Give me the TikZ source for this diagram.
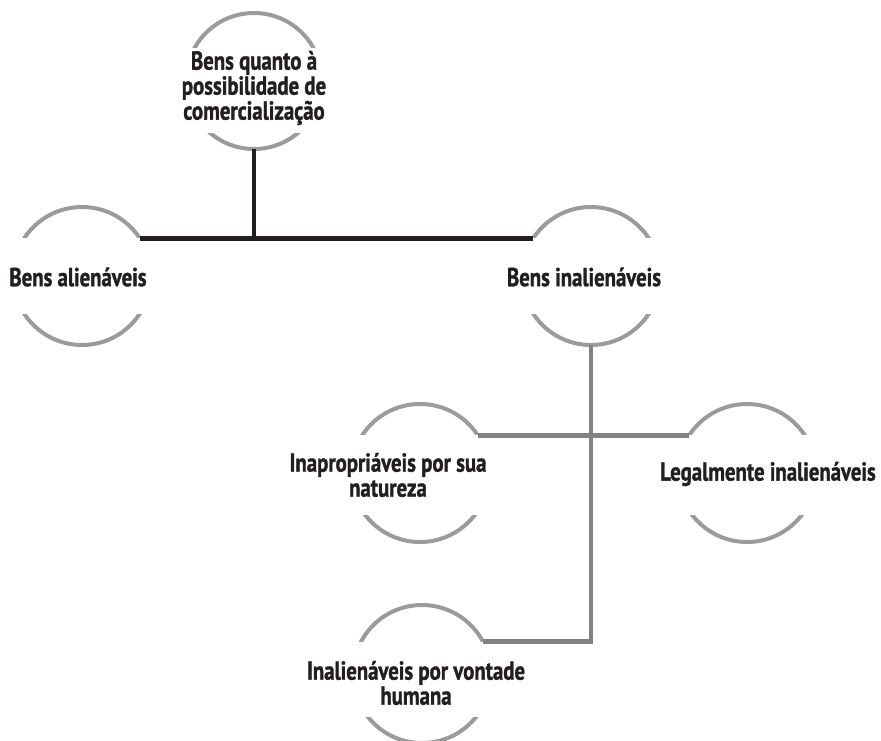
\documentclass[tikz,border=0pt]{standalone}
\usepackage{fontspec}
\setmainfont{PT Sans}[FakeStretch=0.8, BoldFeatures={FakeBold=1.2}]
\definecolor{ringgray}{RGB}{155,155,155}
\definecolor{conngray}{RGB}{130,130,130}
\definecolor{blkc}{RGB}{35,31,32}
\begin{document}
\begin{tikzpicture}[x=1pt,y=-1pt,
  ring/.style={circle, draw=ringgray, line width=4pt, minimum size=138pt, inner sep=0pt, outer sep=0pt},
  band/.style={rectangle, fill=white, inner sep=0pt, minimum width=152pt},
  lbl/.style={font=\bfseries\fontsize{26}{25}\selectfont, align=center, inner sep=0pt, text=blkc},
  blk/.style={draw=blkc, line width=4.5pt},
  gry/.style={draw=conngray, line width=4.5pt}]
\useasboundingbox (0,0) rectangle (881,740);
% rings
\node[ring, minimum size=136pt] (c1) at (254,81) {};
\node[ring] (c2) at (82,276) {};
\node[ring] (c3) at (591,276) {};
\node[ring] (c4) at (420,473) {};
\node[ring] (c5) at (747,473) {};
\node[ring] (c6) at (422,674) {};
% white bands
\node[band, minimum height=85pt] (b1) at (254,90.5) {};
\node[band, minimum height=76pt] (b2) at (82,276) {};
\node[band, minimum height=76pt] (b3) at (591,276) {};
\node[band, minimum height=80pt] (b4) at (420,475) {};
\node[band, minimum height=80pt] (b5) at (747,475) {};
\node[band, minimum height=75pt] (b6) at (422,679.5) {};
% connectors
\draw[blk] (c2.33) -- (c3.147);
\draw[blk] (c1.south) -- (c1.south |- c2.33);
\draw[gry] (c4.33) -- (c5.147);
\draw[gry] (c3.south) -- (c3.south |- c6.28) -- (c6.28);
% labels
\node[lbl] (t1) at (254,88) {Bens quanto à\\possibilidade de\\comercialização};
\node[lbl] (t2) at (78,277) {Bens alienáveis};
\node[lbl] (t3) at (584,277) {Bens inalienáveis};
\node[lbl] (t4) at (388,475) {Inapropriáveis por sua\\natureza};
\node[lbl] (t5) at (768,474) {Legalmente inalienáveis};
\node[lbl] (t6) at (416,683) {Inalienáveis por vontade\\humana};
\end{tikzpicture}
\end{document}
